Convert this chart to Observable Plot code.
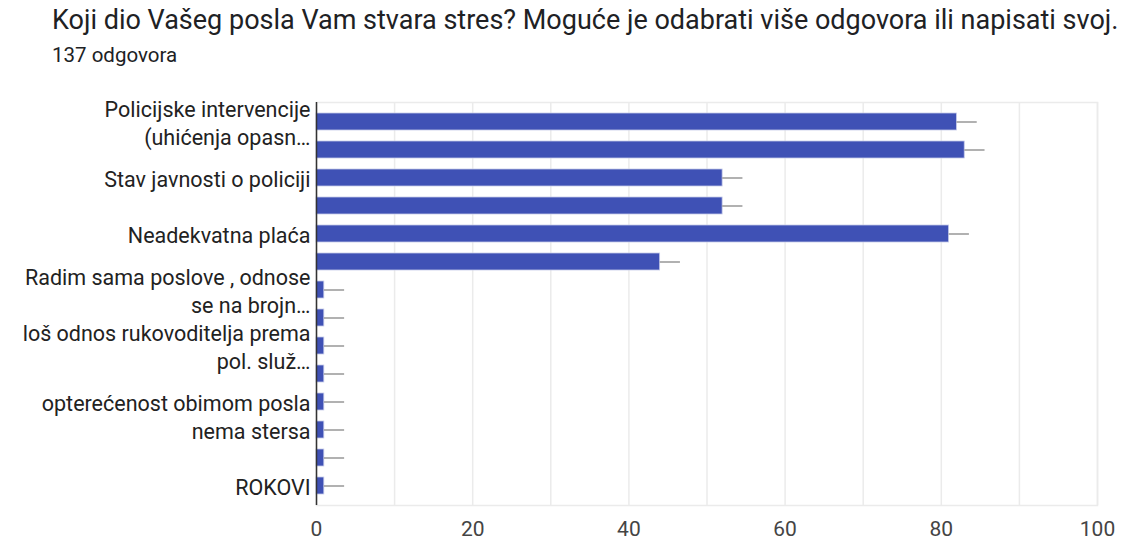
<!DOCTYPE html>
<html><head><meta charset="utf-8">
<script src="https://cdn.jsdelivr.net/npm/d3@7"></script>
<script src="https://cdn.jsdelivr.net/npm/@observablehq/plot@0.6"></script>
<style>
body{margin:0;background:#fff;font-family:Roboto,"Noto Sans",sans-serif;}
#title{position:absolute;left:52px;top:4px;font-size:27px;color:#202124;white-space:nowrap;}
#sub{position:absolute;left:52px;top:43px;font-size:20.5px;color:#202124;}
#chart{position:absolute;left:0;top:70px;}
</style></head><body>
<div id="title">Koji dio Vašeg posla Vam stvara stres? Moguće je odabrati više odgovora ili napisati svoj.</div>
<div id="sub">137 odgovora</div>
<div id="chart"></div>
<script>
// visible axis labels ("" where the chart hides the label)
const labels = [
  "Policijske intervencije\n(uhićenja opasn…", "",
  "Stav javnosti o policiji", "",
  "Neadekvatna plaća", "",
  "Radim sama poslove , odnose\nse na brojn…", "",
  "loš odnos rukovoditelja prema\npol. služ…", "",
  "opterećenost obimom posla",
  "nema stersa", "",
  "ROKOVI"
];
const values = [82, 83, 52, 52, 81, 44, 1, 1, 1, 1, 1, 1, 1, 1];
const errorMargin = 2.6;
const xTicks = [0, 20, 40, 60, 80, 100];
const gridTicks = [0, 10, 20, 30, 40, 50, 60, 70, 80, 90, 100];

const data = values.map((v, i) => ({i, v, hi: v + errorMargin}));

const chart = Plot.plot({
  width: 1125,
  height: 471,
  marginTop: 32,
  marginBottom: 36,
  marginLeft: 316,
  marginRight: 28,
  style: {fontFamily: "Roboto, sans-serif", background: "#fff"},
  x: {domain: [0, 100]},
  y: {domain: d3.range(values.length), paddingInner: 0.4, paddingOuter: 0.2},
  marks: [
    Plot.frame({stroke: "#ebebeb", strokeWidth: 1.5}),
    Plot.gridX(gridTicks, {stroke: "#ebebeb", strokeOpacity: 1, strokeWidth: 1.5}),
    Plot.barX(data, {y: "i", x: "v", fill: "#3f51b5", stroke: "#c5cae9", strokeWidth: 0.8}),
    Plot.ruleY(data, {y: "i", x1: "v", x2: "hi", stroke: "#9e9e9e", strokeWidth: 1.6}),
    Plot.ruleX([0], {stroke: "#333", strokeWidth: 1.5}),
    Plot.axisX(xTicks, {tickSize: 0, tickPadding: 16, fontSize: 21, color: "#444", label: null}),
    Plot.axisY({tickSize: 0, tickPadding: 6, fontSize: 21.5, color: "#222", label: null,
      lineHeight: 1.3, lineAnchor: "middle", tickFormat: i => labels[i]})
  ]
});
document.getElementById("chart").appendChild(chart);
</script></body></html>
